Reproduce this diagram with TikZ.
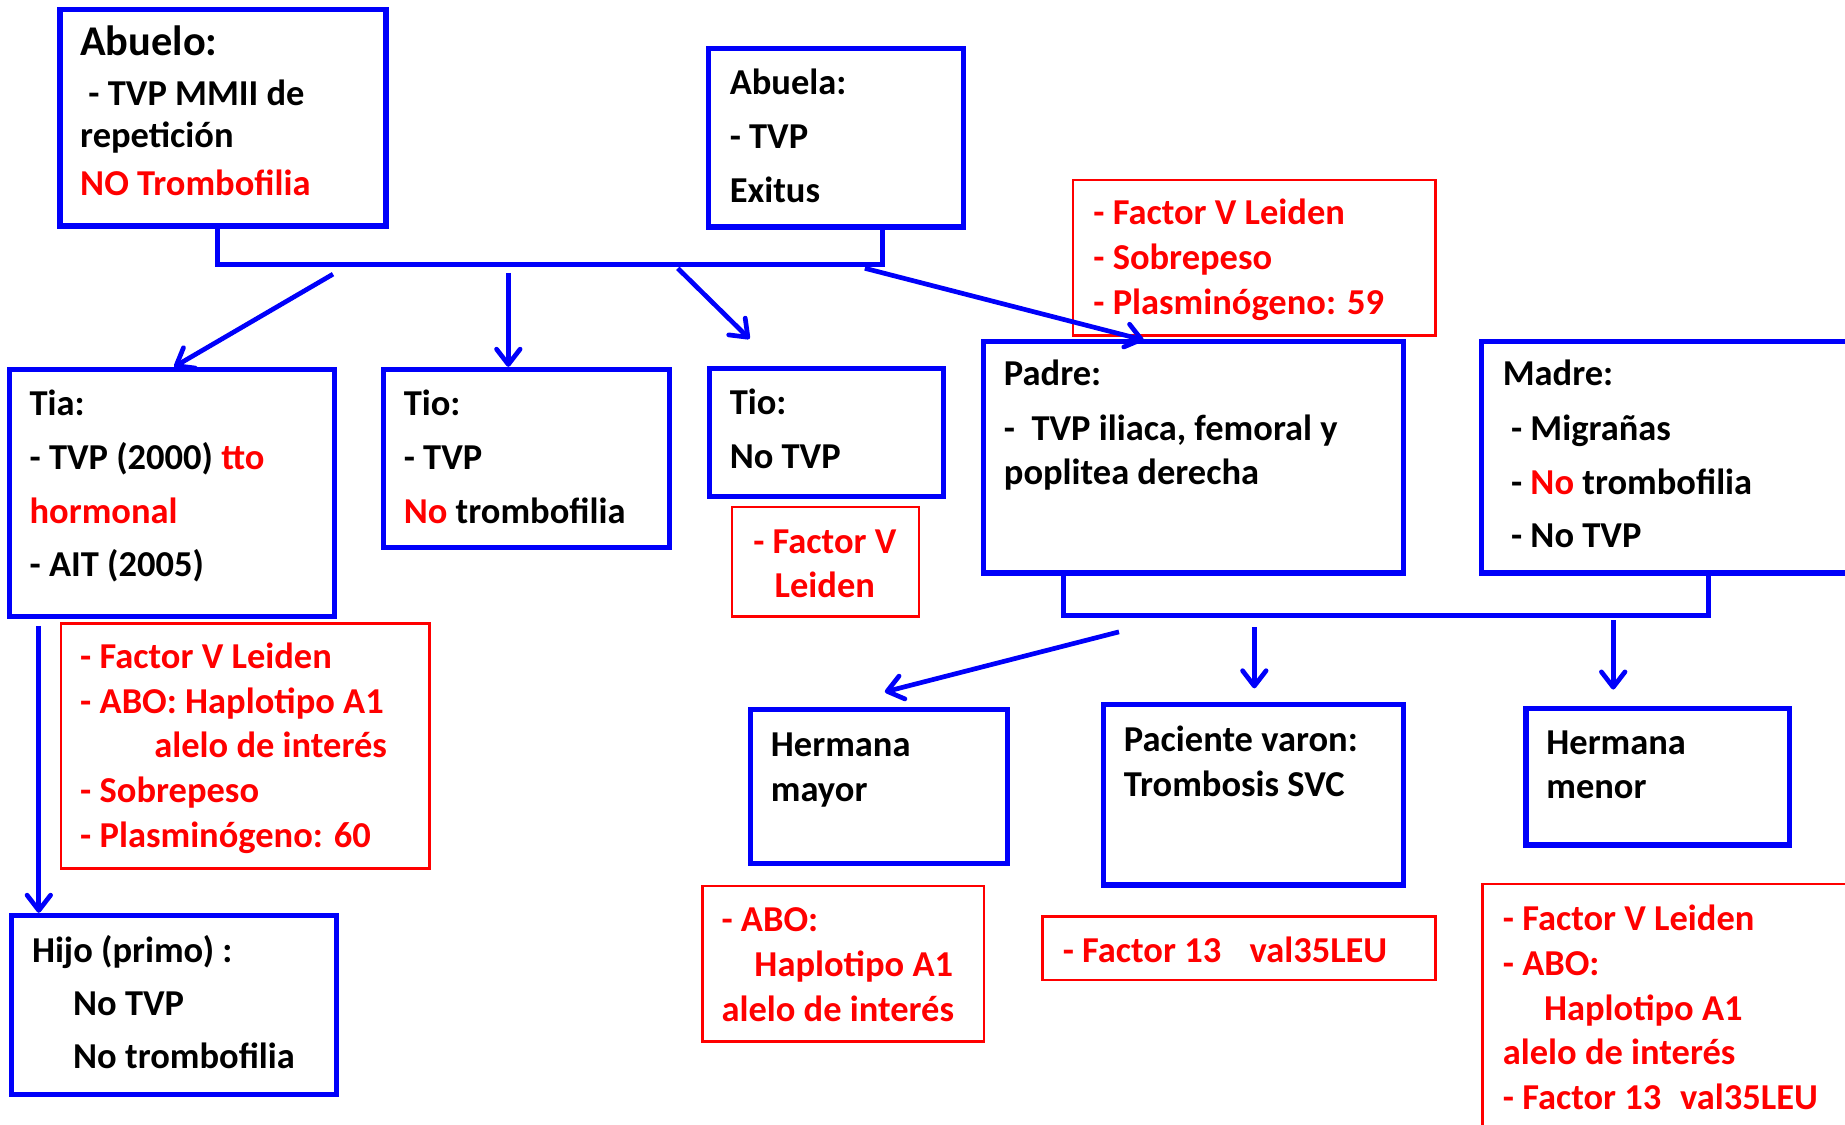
\documentclass[tikz,border=0pt]{standalone}
\usepackage{fontspec}
\setmainfont{Carlito}
\usetikzlibrary{arrows.meta}
\definecolor{bl}{RGB}{0,0,250}
\definecolor{rd}{RGB}{255,0,0}
\newcommand\rt[1]{\textcolor{rd}{#1}}
\newcommand\mytl[4]{\node[txt] (#1) at (#2,#3) {#4};}
\tikzset{
  bbox/.style={draw=bl, line width=4.5pt, rectangle, inner sep=0pt},
  rbox/.style={draw=rd, line width=2pt, rectangle, inner sep=0pt},
  txt/.style={anchor=base west, inner sep=0pt, font=\fontsize{31}{38}\selectfont\bfseries},
  ctxt/.style={anchor=base, inner sep=0pt, font=\fontsize{31}{38}\selectfont\bfseries, text=rd},
  link/.style={draw=bl, line width=4.5pt},
  arr/.style={draw=bl, line width=4pt, -{Straight Barb[length=13pt,width=20pt,round]}}
}
\begin{document}
\begin{tikzpicture}[x=1pt,y=-1pt]
\useasboundingbox (0,0) rectangle (1568,956);
\clip (0,0) rectangle (1568,956);
% boxes
\node[bbox, minimum width=277pt, minimum height=184pt] (abuelo) at (189.5,100) {};
\node[bbox, minimum width=217pt, minimum height=152pt] (abuela) at (710.5,117) {};
\node[bbox, minimum width=276pt, minimum height=210pt] (tia) at (146,419) {};
\node[bbox, minimum width=243pt, minimum height=151pt] (tio1) at (447.5,389.5) {};
\node[bbox, minimum width=199pt, minimum height=109pt] (tio2) at (702.5,367.5) {};
\node[rbox, minimum width=159pt, minimum height=93pt] (rtio2) at (701.5,477.5) {};
\node[rbox, minimum width=308pt, minimum height=132pt] (rpadre) at (1066,219) {};
\node[bbox, minimum width=357pt, minimum height=197pt] (padre) at (1014.5,388.5) {};
\node[bbox, minimum width=341pt, minimum height=197pt] (madre) at (1429.5,388.5) {};
\node[rbox, minimum width=313pt, minimum height=208pt] (rtia) at (208.5,634) {};
\node[bbox, minimum width=276pt, minimum height=152pt] (hijo) at (148,854) {};
\node[bbox, minimum width=218pt, minimum height=131pt] (hmayor) at (747,668.5) {};
\node[rbox, minimum width=239pt, minimum height=132pt] (rhmayor) at (716.5,819) {};
\node[bbox, minimum width=255pt, minimum height=153pt] (paciente) at (1065.5,675.5) {};
\node[rbox, minimum width=334pt, minimum height=54pt] (rpac) at (1053,806) {};
\node[bbox, minimum width=224pt, minimum height=116pt] (hmenor) at (1409,660) {};
\node[rbox, minimum width=340pt, minimum height=249pt] (rhmenor) at (1430,875.5) {};
% connectors grandparents
\coordinate (gbar) at (0,225);
\draw[link] ([xshift=-4.5pt]abuelo.south) -- ([xshift=-4.5pt]abuelo.south |- gbar) -- ([xshift=39.5pt]abuela.south |- gbar) -- ([xshift=39.5pt]abuela.south);
\coordinate (g1) at (283,233);
\coordinate (g2) at (432,232);
\coordinate (g3) at (576,228);
\coordinate (g3e) at (637,288);
\coordinate (g4) at (735,228);
\coordinate (g4e) at (972,289);
\draw[arr] (g1) -- ([xshift=2pt]tia.north);
\draw[arr] (g2) -- (g2 |- tio1.north);
\draw[arr] (g3) -- (g3e);
\draw[arr] (g4) -- (g4e);
% parents
\coordinate (pbar) at (0,523);
\draw[link] ([xshift=-110.5pt]padre.south) -- ([xshift=-110.5pt]padre.south |- pbar) -- ([xshift=22.5pt]madre.south |- pbar) -- ([xshift=22.5pt]madre.south);
\coordinate (p1) at (951,537);
\coordinate (p1e) at (752,588);
\coordinate (p2) at (1066,533);
\coordinate (p2e) at (1066,585);
\coordinate (p3) at (1371,527);
\coordinate (p3e) at (1371,586);
\draw[arr] (p1) -- (p1e);
\draw[arr] (p2) -- (p2e);
\draw[arr] (p3) -- (p3e);
% tia -> hijo
\coordinate (t1) at (33,532);
\draw[arr] (t1) -- (t1 |- hijo.north);
% texts
\node[txt, font=\fontsize{36}{40}\selectfont\bfseries] (abT1) at (68,47) {Abuelo:};
\mytl{abT2}{75}{90}{- TVP MMII de}
\mytl{abT3}{68}{125}{repetición}
\mytl{abT4}{68}{166}{\rt{NO Trombofilia}}
\mytl{aaT1}{620}{80}{Abuela:}
\mytl{aaT2}{620}{126}{- TVP}
\mytl{aaT3}{620}{172}{Exitus}
\mytl{tiaT1}{25}{353}{Tia:}
\mytl{tiaT2}{25}{399}{- TVP (2000) \rt{tto}}
\mytl{tiaT3}{25}{445}{\rt{hormonal}}
\mytl{tiaT4}{25}{490}{- AIT (2005)}
\mytl{tioaT1}{343}{353}{Tio:}
\mytl{tioaT2}{343}{399}{- TVP}
\mytl{tioaT3}{343}{445}{\rt{No} trombofilia}
\mytl{tiobT1}{620}{352}{Tio:}
\mytl{tiobT2}{620}{398}{No TVP}
\node[ctxt] (rtioT1) at (701,470) {- Factor V};
\node[ctxt] (rtioT2) at (701,508) {Leiden};
\mytl{rpT1}{929}{191}{\rt{- Factor V Leiden}}
\mytl{rpT2}{929}{229}{\rt{- Sobrepeso}}
\mytl{rpT3}{929}{267}{\rt{- Plasminógeno: 59}}
\mytl{paT1}{853}{328}{Padre:}
\mytl{paT2}{853}{374}{-\ \ TVP iliaca, femoral y}
\mytl{paT3}{853}{412}{poplitea derecha}
\mytl{maT1}{1277}{328}{Madre:}
\mytl{maT2}{1284}{374}{- Migrañas}
\mytl{maT3}{1284}{420}{- \rt{No} trombofilia}
\mytl{maT4}{1284}{465}{- No TVP}
\mytl{rtT1}{68}{568}{\rt{- Factor V Leiden}}
\mytl{rtT2}{68}{606}{\rt{- ABO: Haplotipo A1}}
\mytl{rtT3}{131}{644}{\rt{alelo de interés}}
\mytl{rtT4}{68}{682}{\rt{- Sobrepeso}}
\mytl{rtT5}{68}{720}{\rt{- Plasminógeno: 60}}
\mytl{hiT1}{27}{818}{Hijo (primo) :}
\mytl{hiT2}{62}{863}{No TVP}
\mytl{hiT3}{62}{908}{No trombofilia}
\mytl{hmaT1}{655}{643}{Hermana}
\mytl{hmaT2}{655}{681}{mayor}
\mytl{rhmaT1}{613}{792}{\rt{- ABO:}}
\mytl{rhmaT2}{641}{830}{\rt{Haplotipo A1}}
\mytl{rhmaT3}{613}{868}{\rt{alelo de interés}}
\mytl{pcT1}{955}{639}{Paciente varon:}
\mytl{pcT2}{955}{677}{Trombosis SVC}
\mytl{rpcT1}{903}{818}{\rt{- Factor 13\hspace{24pt}val35LEU}}
\mytl{hmeT1}{1314}{641}{Hermana}
\mytl{hmeT2}{1314}{679}{menor}
\mytl{rhmeT1}{1277}{791}{\rt{- Factor V Leiden}}
\mytl{rhmeT2}{1277}{829}{\rt{- ABO:}}
\mytl{rhmeT3}{1312}{867}{\rt{Haplotipo A1}}
\mytl{rhmeT4}{1277}{905}{\rt{alelo de interés}}
\mytl{rhmeT5}{1277}{943}{\rt{- Factor 13\hspace{16pt}val35LEU}}
\end{tikzpicture}
\end{document}
